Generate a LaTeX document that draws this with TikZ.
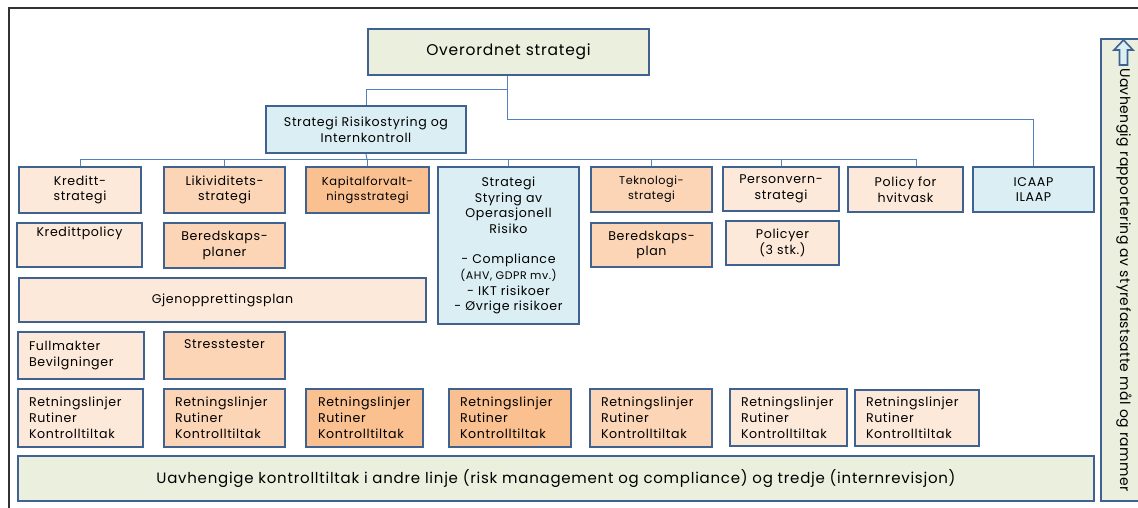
\documentclass[tikz,border=0pt]{standalone}
\usepackage{fontspec}
\setmainfont{Poppins}[LetterSpace=5]
\newfontfamily\vertfont{Poppins}[LetterSpace=3]
\hyphenpenalty=10000 \exhyphenpenalty=10000
\definecolor{bordc}{RGB}{64,98,145}
\definecolor{linec}{RGB}{84,130,190}
\definecolor{peachL}{RGB}{253,233,217}
\definecolor{peachM}{RGB}{251,213,181}
\definecolor{peachD}{RGB}{250,192,144}
\definecolor{blueL}{RGB}{219,238,243}
\definecolor{greenL}{RGB}{235,239,222}
\definecolor{framec}{RGB}{50,50,50}
\newcommand\fsz[2]{\fontsize{#1}{#2}\selectfont}
\newcommand\mybx[7]{%
  \node[box,#6,minimum width={#4pt-#2pt-2.4pt},minimum height={#5pt-#3pt-2.4pt}]
    (#1) at ({(#2+#4)/2},{(#3+#5)/2}) {#7};}
\tikzset{
  box/.style={draw=bordc,line width=2.4pt,inner sep=0pt,align=center,font=\fsz{12.6}{15.8}},
  conn/.style={draw=linec,line width=1pt},
  lft/.style={align=left,text width={#1pt}},
}
\begin{document}
\begin{tikzpicture}[x=1pt,y=-1pt]
\useasboundingbox (0,0) rectangle (1138,508);
\begin{scope}
\clip (0,0) rectangle (1138,508);
% outer frame
\draw[framec,line width=1.5pt] (9,520) -- (9,8) -- (1150,8);
% right vertical box
\node[draw=bordc,line width=2.4pt,fill=greenL,minimum width=50pt,minimum height=462pt,inner sep=0pt] (rbox) at (1126,270) {};
\end{scope}
\draw[bordc,fill=blueL,line width=1.6pt] (1119.5,65) -- (1119.5,50) -- (1114,50) -- (1123.5,40) -- (1133,50) -- (1127.5,50) -- (1127.5,65) -- cycle;
\node[rotate=-90,anchor=west,inner sep=0pt,font=\vertfont\fsz{14}{18}] (rtxt) at (1124,68) {Uavhengig rapportering av styrefastsatte mål og rammer};

% top
\mybx{ov}{367}{28}{650}{76}{fill=greenL,font=\fsz{15.5}{18}}{Overordnet strategi}
\mybx{sr}{265}{105}{467}{154}{fill=blueL}{Strategi Risikostyring og\\Internkontroll}

% row 1
\mybx{kr}{18}{166}{142}{214}{fill=peachL}{Kreditt-\\strategi}
\mybx{li}{163}{166}{286}{214}{fill=peachM}{Likividitets-\\strategi}
\mybx{ka}{305}{166}{430}{214}{fill=peachD,font=\fsz{11.5}{15}}{Kapitalforvalt-\\ningsstrategi}
\mybx{op}{437}{166}{580}{325}{fill=blueL}{Strategi\\Styring av\\Operasjonell\\Risiko\\[14pt]- Compliance\\{\fsz{11}{13}(AHV, GDPR mv.)}\\- IKT risikoer\\- Øvrige risikoer}
\mybx{te}{590}{166}{713}{213}{fill=peachM,font=\fsz{11.2}{15}}{Teknologi-\\strategi}
\mybx{pe}{722}{166}{840}{212}{fill=peachL}{Personvern-\\strategi}
\mybx{hv}{847}{166}{964}{213}{fill=peachL}{Policy for\\hvitvask}
\mybx{ic}{972}{166}{1095}{213}{fill=blueL}{ICAAP\\ILAAP}

% row 2
\mybx{kp}{16}{222}{143}{268}{fill=peachL}{\raisebox{9pt}[0pt][0pt]{Kredittpolicy}}
\mybx{bp}{163}{222}{286}{269}{fill=peachM}{Beredskaps-\\planer}
\mybx{bt}{590}{222}{713}{268}{fill=peachM}{Beredskaps-\\plan}
\mybx{po}{725}{220}{840}{266}{fill=peachL}{Policyer\\(3 stk.)}

% row 3
\mybx{gj}{18}{277}{427}{323}{fill=peachL}{Gjenopprettingsplan}

% row 4
\mybx{fu}{17}{331}{145}{380}{fill=peachL,lft=104}{Fullmakter\\Bevilgninger}
\mybx{st}{163}{331}{286}{380}{fill=peachM}{\raisebox{7pt}[0pt][0pt]{Stresstester}}

% row 5
\mybx{r1}{17}{388}{144}{448}{fill=peachL,lft=103}{Retningslinjer\\Rutiner\\Kontrolltiltak}
\mybx{r2}{163}{388}{286}{448}{fill=peachM,lft=99}{Retningslinjer\\Rutiner\\Kontrolltiltak}
\mybx{r3}{305}{388}{424}{448}{fill=peachD,lft=93}{Retningslinjer\\Rutiner\\Kontrolltiltak}
\mybx{r4}{448}{388}{572}{448}{fill=peachD,lft=100}{Retningslinjer\\Rutiner\\Kontrolltiltak}
\mybx{r5}{589}{388}{713}{448}{fill=peachM,lft=100}{Retningslinjer\\Rutiner\\Kontrolltiltak}
\mybx{r6}{729}{388}{848}{447}{fill=peachL,lft=95}{Retningslinjer\\Rutiner\\Kontrolltiltak}
\mybx{r7}{854}{389}{980}{447}{fill=peachL,lft=102}{Retningslinjer\\Rutiner\\Kontrolltiltak}

% bottom
\mybx{ua}{17}{455}{1095}{502}{fill=greenL,font=\fsz{15}{18}}{Uavhengige kontrolltiltak i andre linje (risk management og compliance) og tredje (internrevisjon)}

% connectors
\coordinate (j1) at (507,90);
\coordinate (j2) at (507,120);
\coordinate (bus) at (367,159.5);
\draw[conn] (ov.south -| j1) -- (j1) -| (sr.north);
\draw[conn] (j1) -- (j2) -| (ic.north);
\draw[conn] (sr.south) -- (bus);
\draw[conn] (kr.north) |- (bus);
\draw[conn] (bus) -| ([xshift=11pt]hv.north);
\foreach \n in {li,ka,op,te,pe}{\draw[conn] (\n.north) -- (\n.north |- bus);}
\end{tikzpicture}
\end{document}
